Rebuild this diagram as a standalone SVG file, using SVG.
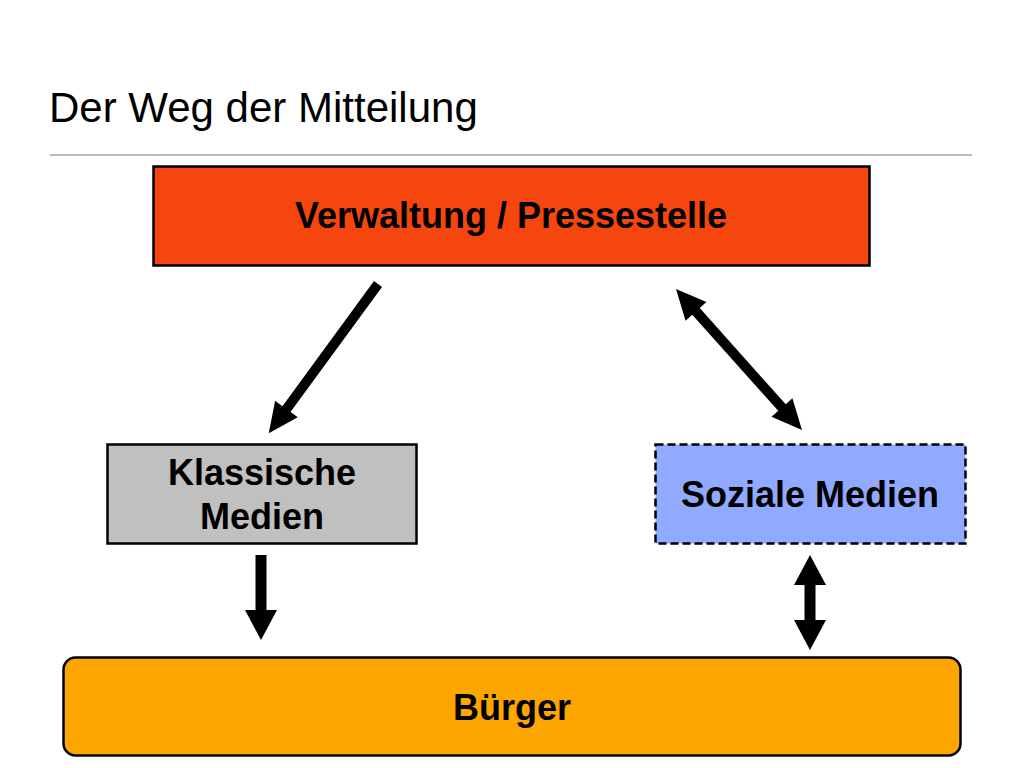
<svg xmlns="http://www.w3.org/2000/svg" width="1024" height="768" viewBox="0 0 1024 768">
<style>
.t{font-family:"Liberation Sans",Arial,sans-serif;}
.lbl{font-family:"Liberation Sans",Arial,sans-serif;font-weight:bold;font-size:36px;fill:#000;text-anchor:middle;}
.box{stroke:#000;stroke-width:2.5;}
.arr{fill:#000;}
</style>
<rect width="1024" height="768" fill="#fff"/>
<text class="t" x="49" y="122" font-size="42" fill="#000">Der Weg der Mitteilung</text>
<line x1="50" y1="155" x2="972" y2="155" stroke="#a6a6a6" stroke-width="1.5"/>
<g id="verwaltung">
<rect class="box" x="153.5" y="166.5" width="716" height="99" fill="#f64610"/>
<text class="lbl" x="511" y="228">Verwaltung / Pressestelle</text>
</g>
<g id="klassisch">
<rect class="box" x="107.5" y="444.5" width="309" height="99" fill="#c0c0c0"/>
<text class="lbl" x="262" y="485">Klassische</text>
<text class="lbl" x="262" y="529">Medien</text>
</g>
<g id="sozial">
<rect class="box" x="655.5" y="444.5" width="310" height="99" fill="#8faaff" stroke-dasharray="8,4"/>
<text class="lbl" x="810" y="507">Soziale Medien</text>
</g>
<g id="buerger">
<rect class="box" x="63.5" y="657.5" width="897" height="98" rx="12" fill="#ffa500"/>
<text class="lbl" x="512" y="720">Bürger</text>
</g>
<g id="connectors" class="arr">
<polygon transform="translate(378,284) rotate(126.2)" points="0,-5 155,-5 155,-14 185,0 155,14 155,5 0,5"/>
<polygon transform="translate(676,289) rotate(48.2)" points="0,0 30,-14 30,-5 159,-5 159,-14 189,0 159,14 159,5 30,5 30,14"/>
<polygon transform="translate(261,555) rotate(90)" points="0,-5.5 55,-5.5 55,-16 85,0 55,16 55,5.5 0,5.5"/>
<polygon transform="translate(810,555) rotate(90)" points="0,0 30,-16 30,-5.5 65,-5.5 65,-16 95,0 65,16 65,5.5 30,5.5 30,16"/>
</g>
</svg>
